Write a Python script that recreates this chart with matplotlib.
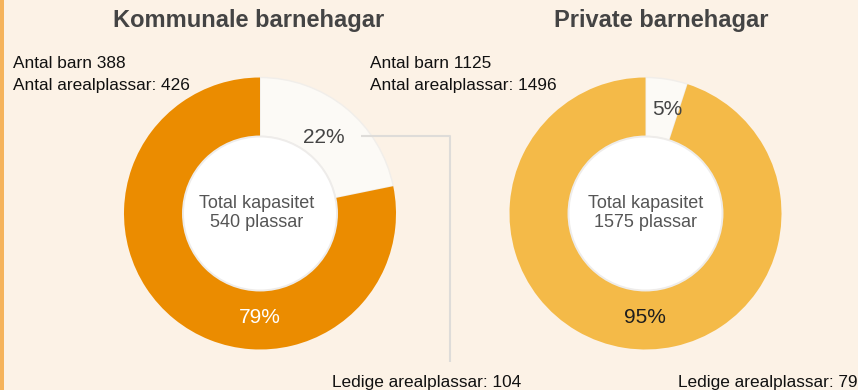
import matplotlib
matplotlib.use("Agg")
import matplotlib.pyplot as plt
from matplotlib.patches import Circle, Rectangle

# --- data -------------------------------------------------------------
titles = ["Kommunale barnehagar", "Private barnehagar"]
antal_barn = [388, 1125]
antal_arealplassar = [426, 1496]
ledige_arealplassar = [104, 79]
total_kapasitet = [540, 1575]
pct_ledige = [22, 5]      # pale segment, starts at 12 o'clock
pct_brukt = [79, 95]      # coloured segment

# --- style ------------------------------------------------------------
W, H = 858, 390
BG = "#FCF2E6"
STRIP = "#F5B35B"
PALE = "#FCFAF6"
RING_COLORS = ["#EB8C00", "#F4BA48"]
PCT_COLORS_USED = ["#FFFFFF", "#1E1E1E"]
TXT = "#111111"
GREY = "#444444"

plt.rcParams["font.family"] = ["Liberation Sans", "DejaVu Sans"]

fig = plt.figure(figsize=(W / 100, H / 100), dpi=100, facecolor=BG)
ax = fig.add_axes([0, 0, 1, 1])
ax.set_facecolor(BG)


def Y(y):
    """Convert a top-down pixel row into the axes' bottom-up coordinate."""
    return H - y


centers = [(260, 213.5), (645.5, 213.5)]
R_OUT, R_IN = 136, 77

# layout of the text blocks per donut
title_x = [249, 661.5]
info_x = [13, 370]
ledige_x = [332, 678]
pct_ledige_pos = [(323.5, 143), (667, 115)]
pct_used_pos = [(260, 323), (645, 323)]
center_text_dx = [-3, 0]

for i in range(2):
    cx, cy = centers[i]
    wedges, _ = ax.pie(
        [pct_ledige[i], pct_brukt[i]],
        colors=[PALE, RING_COLORS[i]],
        startangle=90,
        counterclock=False,
        radius=R_OUT,
        center=(cx, Y(cy)),
        wedgeprops=dict(width=R_OUT - R_IN, linewidth=0),
    )
    wedges[0].set_edgecolor("#F1EEEA")
    wedges[0].set_linewidth(1.0)

    # white hole
    ax.add_patch(Circle((cx, Y(cy)), R_IN, facecolor="white",
                        edgecolor="#EEECEA", linewidth=1.4, zorder=3))

    ax.text(title_x[i], Y(20), titles[i], ha="center", va="center",
            fontsize=17, fontweight="bold", color=GREY)

    ax.text(info_x[i], Y(68), f"Antal barn {antal_barn[i]}",
            ha="left", va="baseline", fontsize=12.4, color=TXT)
    ax.text(info_x[i], Y(90), f"Antal arealplassar: {antal_arealplassar[i]}",
            ha="left", va="baseline", fontsize=12.4, color=TXT)

    ax.text(ledige_x[i], Y(387), f"Ledige arealplassar: {ledige_arealplassar[i]}",
            ha="left", va="baseline", fontsize=12.4, color=TXT)

    ccx = cx + center_text_dx[i]
    ax.text(ccx, Y(208), "Total kapasitet", ha="center", va="baseline",
            fontsize=13, color="#555555", zorder=4)
    ax.text(ccx, Y(227), f"{total_kapasitet[i]} plassar", ha="center",
            va="baseline", fontsize=13, color="#555555", zorder=4)

    px, py = pct_ledige_pos[i]
    ax.text(px, Y(py), f"{pct_ledige[i]}%", ha="center", va="baseline",
            fontsize=15, color=GREY, zorder=4)
    ux, uy = pct_used_pos[i]
    ax.text(ux, Y(uy), f"{pct_brukt[i]}%", ha="center", va="baseline",
            fontsize=15, color=PCT_COLORS_USED[i], zorder=4)

# connector from the 22% label down to the "Ledige" caption
ax.plot([361, 450, 450], [Y(136), Y(136), Y(362)], color="#DEDCD9",
        linewidth=1.5, solid_capstyle="butt", zorder=2)

# accent strip on the left edge
ax.add_patch(Rectangle((0, 0), 3.5, H, facecolor=STRIP, edgecolor="none", zorder=5))

ax.set_xlim(0, W)
ax.set_ylim(0, H)
ax.set_aspect("equal")
ax.axis("off")

fig.savefig("out.png", dpi=100, facecolor=BG)
